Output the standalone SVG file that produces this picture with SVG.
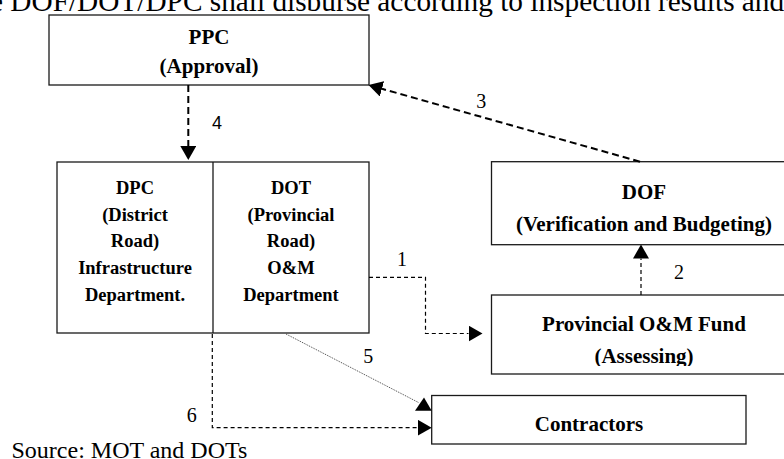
<svg xmlns="http://www.w3.org/2000/svg" width="784" height="459" viewBox="0 0 784 459">
  <style>
    .box { fill: #fff; stroke: #1a1a1a; stroke-width: 1.3; }
    .bt { font-family: "Liberation Serif", "Times New Roman", serif; font-weight: bold; text-anchor: middle; fill: #000; }
    .b21 { font-size: 21px; }
    .b18 { font-size: 18.5px; }
    .num { font-family: "Liberation Serif", "Times New Roman", serif; font-size: 20px; text-anchor: middle; fill: #000; }
    .plain { font-family: "Liberation Serif", "Times New Roman", serif; fill: #000; }
    .heavy { fill: none; stroke: #000; stroke-width: 2; stroke-dasharray: 7 4; }
    .light { fill: none; stroke: #000; stroke-width: 1.2; stroke-dasharray: 4 3; }
    .dotted { fill: none; stroke: #444; stroke-width: 1; stroke-dasharray: 1 1; }
  </style>
  <defs>
    <marker id="head" markerUnits="userSpaceOnUse" viewBox="0 0 14 16" markerWidth="14" markerHeight="16" refX="0" refY="8" orient="auto">
      <path d="M0,0 L14,8 L0,16 Z" fill="#000"/>
    </marker>
    <clipPath id="fund-clip">
      <rect x="491" y="295" width="300" height="71"/>
    </clipPath>
  </defs>

  <!-- running sentence above the chart -->
  <text class="plain" x="-10" y="10.5" font-size="29.3">e DOF/DOT/DPC shall disburse according to inspection results and</text>

  <g id="ppc">
    <rect class="box" x="49" y="15" width="320" height="70"/>
    <text class="bt b21" x="209" y="44">PPC</text>
    <text class="bt b21" x="209" y="73">(Approval)</text>
  </g>

  <g id="dpc-dot">
    <rect class="box" x="57" y="162" width="312" height="171"/>
    <line x1="213" y1="162" x2="213" y2="333" stroke="#1a1a1a" stroke-width="1.3"/>
  </g>

  <g id="dpc">
    <text class="bt b18" x="135" y="194">DPC</text>
    <text class="bt b18" x="135" y="220.7">(District</text>
    <text class="bt b18" x="135" y="247.3">Road)</text>
    <text class="bt b18" x="135" y="274">Infrastructure</text>
    <text class="bt b18" x="135" y="300.7">Department.</text>
  </g>

  <g id="dot">
    <text class="bt b18" x="291" y="194">DOT</text>
    <text class="bt b18" x="291" y="220.7">(Provincial</text>
    <text class="bt b18" x="291" y="247.3">Road)</text>
    <text class="bt b18" x="291" y="274">O&amp;M</text>
    <text class="bt b18" x="291" y="300.7">Department</text>
  </g>

  <g id="dof">
    <rect class="box" x="491.5" y="161.7" width="304" height="83"/>
    <text class="bt b21" x="644" y="198.5">DOF</text>
    <text class="bt b21" x="644" y="230.5">(Verification and Budgeting)</text>
  </g>

  <g id="fund">
    <rect class="box" x="491.5" y="295" width="304" height="79"/>
    <g clip-path="url(#fund-clip)">
      <text class="bt b21" x="644" y="331">Provincial O&amp;M Fund</text>
      <text class="bt b21" x="644" y="362.5">(Assessing)</text>
    </g>
  </g>

  <g id="contractors">
    <rect class="box" x="431.7" y="395.5" width="314.3" height="48.5"/>
    <text class="bt b21" x="589" y="431">Contractors</text>
  </g>

  <g id="connectors">
    <!-- 1: DOT to provincial fund -->
    <path class="light" d="M369,277.3 H425.5 V333.5 H468.5" marker-end="url(#head)"/>
    <text class="num" x="402" y="266">1</text>
    <!-- 2: fund to DOF -->
    <path class="light" d="M641,295 V258.5" marker-end="url(#head)"/>
    <text class="num" x="679" y="278.5">2</text>
    <!-- 3: DOF to PPC -->
    <path class="heavy" d="M640,161.7 L382,88.8" marker-end="url(#head)"/>
    <text class="num" x="481.3" y="108.3">3</text>
    <!-- 4: PPC to DPC/DOT -->
    <path class="heavy" d="M188.3,85 V146" marker-end="url(#head)"/>
    <text x="217" y="129.3" font-family="Liberation Sans, Arial, sans-serif" font-size="18" text-anchor="middle" fill="#000">4</text>
    <!-- 5: DOT to contractors -->
    <path class="dotted" d="M286,334 L418.5,402.5"/>
    <polygon points="415,410.8 431.7,410.8 424,397.5" fill="#000"/>
    <text class="num" x="368.3" y="363.3">5</text>
    <!-- 6: DPC to contractors -->
    <path class="light" d="M212.3,334 V427.7 H417.7" marker-end="url(#head)"/>
    <text class="num" x="191.7" y="421.5">6</text>
  </g>

  <text class="plain" x="11.5" y="458" font-size="24">Source: MOT and DOTs</text>
</svg>
